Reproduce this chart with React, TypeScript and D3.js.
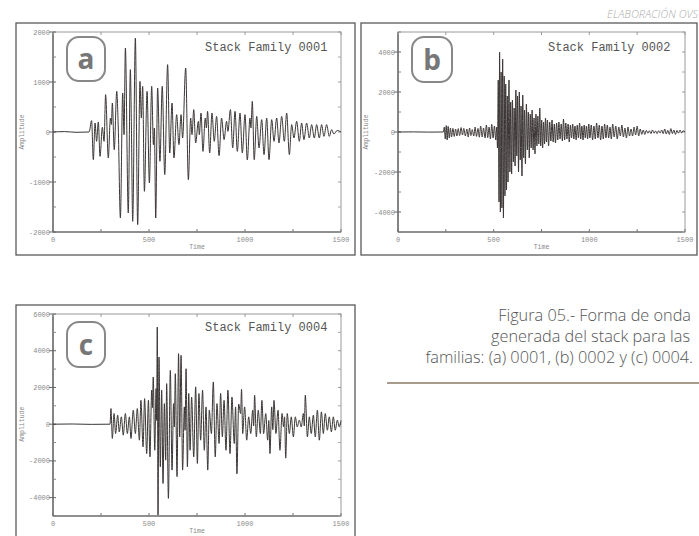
import React from "react";
import * as d3 from "d3";

// ---- Data (time, amplitude) at waveform extrema ----
const family0001: [number, number][] = [
  [0, 0], [60, 8], [120, -6], [188, 0],
  [201, 227], [210, -553], [219, 180], [227, -187], [236, 200], [245, -487], [257, 93], [266, -187],
  [274, 747], [288, -520], [299, 280], [304, 150], [309, 580], [319, -353], [332, 813], [340, 80],
  [351, -1720], [363, 780], [370, -53], [377, 1680], [392, -1620], [403, 1247], [408, 213], [415, -1787],
  [429, 1880], [441, -1853], [453, 1013], [460, 280], [467, 913], [476, -1187], [490, 813], [502, -1020],
  [514, 913], [523, -253], [528, 80], [535, -1720], [545, 880], [557, -587], [569, 913], [582, -853],
  [597, 1347], [608, -420], [620, 580], [630, -520], [644, 347], [656, -253], [667, 347], [675, -120],
  [691, 1280], [705, -953], [717, 280], [724, -53], [733, 447], [743, -220], [757, 213], [762, -53],
  [771, 380], [781, -387], [793, 280], [799, 80], [805, 413], [816, -420], [828, 380], [840, -187],
  [852, 313], [865, -473], [878, 280], [891, -153], [904, 213], [911, 13], [924, 447], [936, -320],
  [948, 413], [960, -387], [974, 380], [986, -420], [1000, 347], [1012, -560], [1026, 280], [1031, 80],
  [1038, 613], [1048, -553], [1061, 313], [1073, -320], [1087, 247], [1099, -453], [1113, 280], [1125, -553],
  [1139, 247], [1151, -187], [1165, 280], [1177, -220], [1191, 313], [1205, -187], [1217, 380], [1231, -453],
  [1243, 147], [1255, -120], [1269, 213], [1283, -187], [1295, 180], [1307, -153], [1321, 180], [1335, -120],
  [1347, 147], [1361, -120], [1373, 147], [1387, -120], [1399, 147], [1411, -87], [1425, 147], [1439, -87],
  [1451, 47], [1463, -40], [1480, 30], [1500, 0],
];

const family0002: [number, number][] = [
  [0, 0], [80, 5], [160, -5], [237, 0],
  [242, 250], [247, -350], [252, 320], [257, -400], [262, 280], [268, -300], [274, 200], [280, -250],
  [287, 180], [294, -220], [301, 150], [308, -200], [315, 170], [322, -180], [330, 220], [337, -150],
  [344, 180], [352, -200], [360, 150], [367, -250], [374, 200], [381, -180], [388, 120], [396, -200],
  [403, 250], [410, -220], [418, 180], [425, -260], [432, 300], [440, -250], [447, 200], [455, -300],
  [462, 350], [469, -280], [476, 250], [483, -350], [490, 380], [497, -300], [504, 300], [511, -400],
  [516, 250], [520, -800], [524, 2600], [528, -3500], [531, 4000], [535, -4000], [539, 3000], [543, -3800],
  [547, 3650], [551, -4300], [555, 2800], [559, -3200], [563, 2400], [567, -2900], [571, 1800], [575, -2500],
  [580, 2600], [585, -2000], [589, 1500], [594, -2100], [598, 1600], [603, -1500], [607, 1200], [612, -1700],
  [616, 2100], [621, -1200], [625, 1800], [630, -2000], [634, 2000], [639, -1400], [643, 1300], [648, -2200],
  [652, 1850], [657, -1300], [661, 1100], [666, -1600], [671, 1400], [676, -900], [681, 1000], [686, -1300],
  [691, 900], [696, -800], [701, 1100], [706, -900], [711, 700], [716, -1100], [721, 900], [726, -700],
  [731, 800], [736, -600], [741, 1200], [746, -700], [751, 600], [756, -800], [761, 500], [766, -600],
  [771, 700], [776, -500], [781, 600], [787, -700], [793, 500], [799, -450], [805, 600], [811, -500],
  [817, 400], [823, -550], [829, 450], [835, -400], [841, 500], [847, -350], [853, 400], [859, -450],
  [865, 650], [871, -400], [877, 450], [883, -350], [889, 400], [895, -500], [901, 350], [907, -300],
  [913, 400], [919, -350], [925, 300], [931, -400], [937, 350], [943, -300], [949, 450], [955, -350],
  [961, 300], [967, -400], [973, 350], [979, -300], [985, 300], [991, -350], [997, 400], [1003, -300],
  [1010, 350], [1017, -400], [1024, 300], [1031, -350], [1038, 450], [1045, -300], [1052, 350], [1059, -400],
  [1066, 300], [1073, -350], [1080, 400], [1087, -300], [1094, 350], [1101, -300], [1108, 250], [1115, -350],
  [1122, 400], [1130, -250], [1138, 300], [1146, -350], [1154, 250], [1162, -200], [1170, 350], [1178, -250],
  [1186, 200], [1194, -300], [1202, 250], [1210, -200], [1218, 150], [1226, -200], [1234, 250], [1242, -150],
  [1250, 300], [1258, -200], [1266, 150], [1274, -120], [1282, 100], [1290, -120], [1298, 80], [1306, -60],
  [1314, 60], [1322, -80], [1330, 100], [1338, -60], [1346, 50], [1354, -80], [1362, 60], [1370, -50],
  [1378, 100], [1386, -80], [1394, 150], [1402, -100], [1410, 80], [1418, -120], [1426, 170], [1434, -80],
  [1442, 100], [1450, -120], [1458, 80], [1466, -60], [1474, 100], [1482, -50], [1490, 60], [1500, 0],
];

const family0004: [number, number][] = [
  [0, 0], [100, 10], [200, -10], [297, 0],
  [302, 850], [309, -780], [318, 580], [326, -510], [337, 490], [345, -420], [356, 400], [366, -600],
  [377, 580], [387, -510], [398, 400], [406, -780], [418, 760], [429, -510], [439, 850], [450, -870],
  [458, 1300], [469, -1230], [477, 1390], [488, -1600], [497, 1300], [505, -1780], [514, 1850], [518, 900],
  [522, 2570], [530, -1420], [537, 1940], [540, 200], [543, 5290], [547, -4950], [552, 3660], [559, -2320],
  [566, 1850], [573, -3230], [580, 1120], [587, -1960], [592, 2210], [601, -4040], [611, 2930], [620, -2500],
  [628, 1120], [632, -150], [637, 2750], [646, -2860], [654, 3840], [660, -690], [667, 3750], [675, -2500],
  [684, 940], [688, -330], [693, 3020], [700, -2320], [707, 1670], [714, -1420], [722, 1480], [733, -1780],
  [743, 2030], [752, -2140], [760, 1670], [769, -870], [779, 1850], [788, -1420], [797, 940], [806, -2500],
  [814, 760], [825, -510], [835, 2300], [845, -1780], [854, 1120], [865, -1050], [873, 1670], [882, -690],
  [891, 1300], [901, -1420], [911, 1850], [922, -1600], [932, 1480], [944, -1050], [951, 940], [958, -2700],
  [967, 1100], [977, 580], [982, 1900], [988, -510], [998, 940], [1009, -870], [1019, 400], [1030, -510],
  [1040, 760], [1045, -100], [1050, 1580], [1059, -690], [1069, 760], [1080, -510], [1088, 1300], [1097, -510],
  [1108, 580], [1118, -870], [1124, 200], [1130, -1600], [1139, 940], [1145, -300], [1151, 1300], [1161, -510],
  [1172, 760], [1182, -1420], [1193, 580], [1201, -150], [1206, 400], [1212, -1850], [1220, 580], [1231, -510],
  [1241, 400], [1252, -690], [1262, 400], [1272, -150], [1283, 220], [1293, -150], [1304, 580], [1309, -100],
  [1314, 1580], [1325, -690], [1335, 400], [1345, -510], [1356, 490], [1366, -690], [1377, 760], [1387, -870],
  [1398, 670], [1408, -510], [1418, 580], [1429, -330], [1439, 400], [1450, -420], [1460, 400], [1470, -330],
  [1481, 220], [1491, -150], [1500, 200],
];

const xTickLabels = [0, 500, 1000, 1500];
const yTicksA = [-2000, -1000, 0, 1000, 2000];
const yTicksB = [-4000, -2000, 0, 2000, 4000];
const yTicksC = [-4000, -2000, 0, 2000, 4000, 6000];
const titles = ["Stack Family 0001", "Stack Family 0002", "Stack Family 0004"];
const badges = ["a", "b", "c"];
const captionLines = [
  "Figura 05.- Forma de onda",
  "generada del stack para las",
  "familias: (a) 0001, (b) 0002 y (c) 0004.",
];
const creditText = "ELABORACIÓN OVS";

type PanelProps = {
  box: [number, number, number, number];
  plot: [number, number, number, number];
  yDomain: [number, number];
  yTicks: number[];
  minorStep: number;
  data: [number, number][];
  title: string;
  titleX: number;
  titleY: number;
  badge: string;
  badgeBox: [number, number, number, number];
  ampX: number;
};

const mono = "'Liberation Mono', 'DejaVu Sans Mono', monospace";

function Panel(p: PanelProps) {
  const [px0, py0, px1, py1] = p.plot;
  const x = d3.scaleLinear().domain([0, 1500]).range([px0, px1]);
  const y = d3.scaleLinear().domain(p.yDomain).range([py1, py0]);
  const line = d3
    .line<[number, number]>()
    .x((d) => x(d[0]))
    .y((d) => y(d[1]))
    .curve(d3.curveMonotoneX);
  const yMinor = d3.range(p.yDomain[0], p.yDomain[1] + 1, p.minorStep).filter((v) => !p.yTicks.includes(v));
  const xMinor = d3.range(0, 1501, 250);
  const [bx, by, bw, bh] = p.badgeBox;
  return (
    <g>
      <rect x={p.box[0]} y={p.box[1]} width={p.box[2]} height={p.box[3]} fill="#fff" stroke="#5a5a5a" strokeWidth={1.3} />
      <rect x={px0} y={py0} width={px1 - px0} height={py1 - py0} fill="none" stroke="#9a9a9a" strokeWidth={1} />
      <line x1={px0} x2={px0} y1={py0} y2={py1} stroke="#555" strokeWidth={1.2} />
      <line x1={px0} x2={px1} y1={py1} y2={py1} stroke="#555" strokeWidth={1.2} />
      {p.yTicks.map((v) => (
        <g key={"yt" + v}>
          <line x1={px0 - 4} x2={px0 + 3} y1={y(v)} y2={y(v)} stroke="#666" strokeWidth={1} />
          <line x1={px1 - 3} x2={px1} y1={y(v)} y2={y(v)} stroke="#999" strokeWidth={1} />
          <text x={px0 - 3} y={y(v) + 2.5} textAnchor="end" fontFamily={mono} fontSize={7} fill="#8a8a8a">
            {v}
          </text>
        </g>
      ))}
      {yMinor.map((v) => (
        <g key={"ym" + v}>
          <line x1={px0} x2={px0 + 3} y1={y(v)} y2={y(v)} stroke="#888" strokeWidth={1} />
          <line x1={px1 - 3} x2={px1} y1={y(v)} y2={y(v)} stroke="#aaa" strokeWidth={1} />
        </g>
      ))}
      {xMinor.map((v) => (
        <g key={"xm" + v}>
          <line x1={x(v)} x2={x(v)} y1={py1} y2={py1 - 3} stroke="#777" strokeWidth={1} />
          <line x1={x(v)} x2={x(v)} y1={py0} y2={py0 + 3} stroke="#999" strokeWidth={1} />
        </g>
      ))}
      {xTickLabels.map((v) => (
        <text key={"xl" + v} x={x(v)} y={py1 + 10} textAnchor="middle" fontFamily={mono} fontSize={7} fill="#8a8a8a">
          {v}
        </text>
      ))}
      <text x={(px0 + px1) / 2} y={py1 + 17} textAnchor="middle" fontFamily={mono} fontSize={6.5} fill="#888">
        Time
      </text>
      <text
        transform={`translate(${p.ampX},${y(0)}) rotate(-90)`}
        textAnchor="middle"
        fontFamily={mono}
        fontSize={6.5}
        fill="#888"
      >
        Amplitude
      </text>
      <path d={line(p.data) || ""} fill="none" stroke="#3b3535" strokeWidth={1} strokeLinejoin="round" />
      <text x={p.titleX} y={p.titleY} fontFamily={mono} fontSize={12} fill="#555">
        {p.title}
      </text>
      <rect x={bx} y={by} width={bw} height={bh} rx={12} ry={12} fill="#fff" stroke="#888" strokeWidth={2} />
      <text
        x={bx + bw / 2}
        y={by + bh / 2 + 10}
        textAnchor="middle"
        fontFamily="'Open Sans', sans-serif"
        fontWeight={700}
        fontSize={28}
        fill="#777"
      >
        {p.badge}
      </text>
    </g>
  );
}

const captionRight = [691, 690, 693];

export default function App() {
  return (
    <svg
      width={699}
      height={536}
      style={{ position: "absolute", left: 0, top: 0, background: "#fff" }}
      xmlns="http://www.w3.org/2000/svg"
    >
      <rect x={0} y={0} width={699} height={536} fill="#fff" />
      <text
        x={698}
        y={18}
        textAnchor="end"
        fontFamily="'Open Sans', sans-serif"
        fontStyle="italic"
        fontWeight={300}
        fontSize={11}
        fill="#aaa"
      >
        {creditText}
      </text>
      <Panel
        box={[16, 23, 339, 232]}
        plot={[53, 32, 341, 232]}
        yDomain={[-2000, 2000]}
        yTicks={yTicksA}
        minorStep={500}
        data={family0001}
        title={titles[0]}
        titleX={205}
        titleY={51}
        badge={badges[0]}
        badgeBox={[67, 37, 38, 44]}
        ampX={24}
      />
      <Panel
        box={[361, 23, 336, 232]}
        plot={[398, 32, 685, 232]}
        yDomain={[-5000, 5000]}
        yTicks={yTicksB}
        minorStep={1000}
        data={family0002}
        title={titles[1]}
        titleX={548}
        titleY={51}
        badge={badges[1]}
        badgeBox={[412, 37, 40, 45]}
        ampX={368}
      />
      <Panel
        box={[16, 305, 339, 240]}
        plot={[53, 314, 341, 516]}
        yDomain={[-5000, 6000]}
        yTicks={yTicksC}
        minorStep={1000}
        data={family0004}
        title={titles[2]}
        titleX={205}
        titleY={331}
        badge={badges[2]}
        badgeBox={[67, 322, 38, 45]}
        ampX={24}
      />
      {captionLines.map((t, i) => (
        <text
          key={i}
          x={captionRight[i]}
          y={321 + i * 21}
          textAnchor="end"
          fontFamily="'Open Sans', sans-serif"
          fontWeight={300}
          fontSize={16.3}
          fill="#555"
        >
          {t}
        </text>
      ))}
      <line x1={387} x2={699} y1={383} y2={383} stroke="#8c7a66" strokeWidth={1.5} />
    </svg>
  );
}
